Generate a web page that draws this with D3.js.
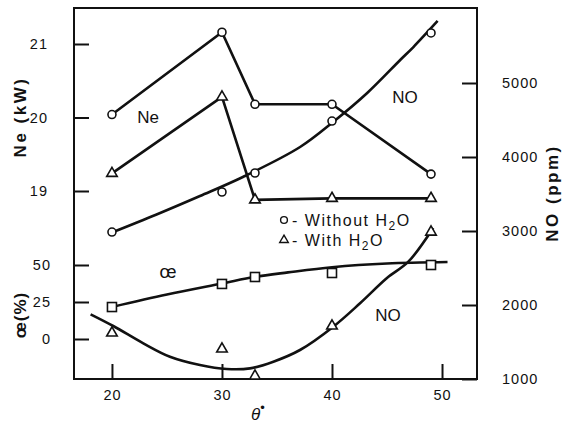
<!DOCTYPE html>
<html><head><meta charset="utf-8">
<script src="https://cdn.jsdelivr.net/npm/d3@7"></script>
<style>
html,body{margin:0;padding:0;background:#fff;}
svg{display:block;}
text{font-family:"Liberation Sans",Arial,sans-serif;fill:#111;}
</style></head>
<body>
<svg id="chart" width="563" height="429"></svg>
<script>
// ---- data ----
const theta = [20, 30, 33, 40, 49];
const neWithout = [20.04, 21.16, 20.18, 20.18, 19.23];
const neWith = [19.24, 20.28, 18.88, 18.9, 18.9];
const noWithout = [2986, 3527, 3784, 4486, 5676];
const noWith = [1622, 1405, 1040, 1716, 2986];
const aeVals = [21.6, 37.2, 41.9, 44.6, 50];
// fitted curves
const noDryFitTheta = [20.1, 24, 28, 31.9, 37.1, 40.1, 43.2, 46.2, 47.4, 49.6];
const noDryFit = [2986, 3220, 3473, 3730, 4135, 4473, 4865, 5311, 5486, 5838];
const noWetFitTheta = [18.06, 20.12, 22.85, 25.27, 28, 30.43, 32.55, 34.67, 37.09, 40.12, 42.55, 44.97, 46.94, 49.2];
const noWetFit = [1874, 1716, 1482, 1301, 1189, 1135, 1144, 1234, 1392, 1707, 2023, 2361, 2585, 3040];
const aeFitTheta = [20, 25, 30, 33, 36, 40, 45, 50.5];
const aeFit = [21.6, 30, 37.5, 42, 45, 48.5, 51, 52];
const xTicks = [20, 30, 40, 50];
const neTicks = [19, 20, 21];
const aeTicks = [0, 25, 50];
const noTicks = [1000, 2000, 3000, 4000, 5000];

const svg = d3.select("#chart");
const L = 74, R = 477, T = 8, B = 379;
const x = d3.scaleLinear().domain([16.55, 53.18]).range([L, R]);
const yNe = d3.scaleLinear().domain([19, 21]).range([191, 44]);
const yAe = d3.scaleLinear().domain([0, 50]).range([339, 265]);
const yNo = d3.scaleLinear().domain([1000, 5000]).range([B, 83]);

// frame
svg.append("rect").attr("x", L).attr("y", T).attr("width", R - L).attr("height", B - T)
  .attr("fill", "none").attr("stroke", "#111").attr("stroke-width", 2);

// axes
const fs = "14.5px";
const bottom = svg.append("g").attr("transform", `translate(0,${B})`)
  .call(d3.axisBottom(x).tickValues(xTicks).tickSize(-15).tickPadding(11).tickFormat(d3.format("d")));
const leftNe = svg.append("g").attr("transform", `translate(${L},0)`)
  .call(d3.axisLeft(yNe).tickValues(neTicks).tickSize(-15).tickPadding(26).tickFormat(d3.format("d")));
const leftAe = svg.append("g").attr("transform", `translate(${L},0)`)
  .call(d3.axisLeft(yAe).tickValues(aeTicks).tickSize(-15).tickPadding(23).tickFormat(d3.format("d")));
const rightNo = svg.append("g").attr("transform", `translate(${R},0)`)
  .call(d3.axisRight(yNo).tickValues(noTicks).tickSize(-15).tickPadding(25).tickFormat(d3.format("d")));
[bottom, leftNe, leftAe, rightNo].forEach(g => {
  g.select(".domain").remove();
  g.selectAll(".tick line").attr("stroke", "#111").attr("stroke-width", 2);
  g.selectAll(".tick text").attr("fill", "#111").style("font-size", fs)
    .style("font-family", '"Liberation Sans",Arial,sans-serif').style("letter-spacing", "1px");
});

// axis titles
svg.append("text").attr("transform", "translate(26,117) rotate(-90)").attr("text-anchor", "middle")
  .style("font-size", "17px").style("font-weight", "bold").style("letter-spacing", "2.5px").text("Ne (kW)");
svg.append("text").attr("transform", "translate(26,315) rotate(-90)").attr("text-anchor", "middle")
  .style("font-size", "17px").style("font-weight", "bold").style("letter-spacing", "1px").text("œ(%)");
svg.append("text").attr("transform", "translate(558,193) rotate(-90)").attr("text-anchor", "middle")
  .style("font-size", "17px").style("font-weight", "bold").style("letter-spacing", "2.5px").text("NO (ppm)");
const xt = svg.append("text").attr("x", 258).attr("y", 420).attr("text-anchor", "middle")
  .style("font-size", "17px").style("font-style", "italic");
xt.append("tspan").text("θ");
xt.append("tspan").attr("dy", -8).style("font-size", "13px").style("font-style", "normal").text("•");

// lines
const lw = 2.6;
const straight = (ys, yScale) => d3.line().x((d, i) => x(theta[i])).y(d => yScale(d))(ys);
const smooth = (ts, vs, yScale) => d3.line().curve(d3.curveCatmullRom.alpha(0.5))
  .x((d, i) => x(ts[i])).y(d => yScale(d))(vs);

svg.append("path").attr("d", straight(neWithout, yNe)).attr("fill", "none").attr("stroke", "#111").attr("stroke-width", lw);
svg.append("path").attr("d", straight(neWith, yNe)).attr("fill", "none").attr("stroke", "#111").attr("stroke-width", lw);
svg.append("path").attr("d", smooth(noDryFitTheta, noDryFit, yNo)).attr("fill", "none").attr("stroke", "#111").attr("stroke-width", lw);
svg.append("path").attr("d", smooth(noWetFitTheta, noWetFit, yNo)).attr("fill", "none").attr("stroke", "#111").attr("stroke-width", lw);
svg.append("path").attr("d", smooth(aeFitTheta, aeFit, yAe)).attr("fill", "none").attr("stroke", "#111").attr("stroke-width", lw);

// markers
function circles(vals, yScale) {
  svg.append("g").selectAll("circle").data(vals).join("circle")
    .attr("cx", (d, i) => x(theta[i])).attr("cy", d => yScale(d)).attr("r", 4)
    .attr("fill", "#fff").attr("stroke", "#111").attr("stroke-width", 1.6);
}
function triangles(vals, yScale) {
  const sym = d3.symbol().type(d3.symbolTriangle).size(48);
  svg.append("g").selectAll("path").data(vals).join("path")
    .attr("transform", (d, i) => `translate(${x(theta[i])},${yScale(d)})`).attr("d", sym)
    .attr("fill", "#fff").attr("stroke", "#111").attr("stroke-width", 1.6);
}
function squares(vals, yScale) {
  svg.append("g").selectAll("rect").data(vals).join("rect")
    .attr("x", (d, i) => x(theta[i]) - 4.5).attr("y", d => yScale(d) - 4.5)
    .attr("width", 9).attr("height", 9)
    .attr("fill", "#fff").attr("stroke", "#111").attr("stroke-width", 1.6);
}
circles(neWithout, yNe);
triangles(neWith, yNe);
circles(noWithout, yNo);
triangles(noWith, yNo);
squares(aeVals, yAe);

// labels
const lab = (tx, ty, t, size) => svg.append("text").attr("x", tx).attr("y", ty).attr("text-anchor", "middle")
  .style("font-size", size || "17px").text(t);
lab(148, 123, "Ne");
lab(405, 103, "NO");
lab(168, 278, "œ", "18px");
lab(388, 321, "NO");

// legend
const lg = svg.append("g").style("font-size", "16px").style("letter-spacing", "1.5px");
lg.append("circle").attr("cx", 284).attr("cy", 220).attr("r", 3.4).attr("fill", "#fff").attr("stroke", "#111").attr("stroke-width", 1.4);
const t1 = lg.append("text").attr("x", 292).attr("y", 226);
t1.append("tspan").text("- Without H");
t1.append("tspan").attr("dy", 4).style("font-size", "12px").text("2");
t1.append("tspan").attr("dy", -4).text("O");
lg.append("path").attr("d", d3.symbol().type(d3.symbolTriangle).size(32)()).attr("transform", "translate(284,240)")
  .attr("fill", "#fff").attr("stroke", "#111").attr("stroke-width", 1.4);
const t2 = lg.append("text").attr("x", 292).attr("y", 246);
t2.append("tspan").text("- With H");
t2.append("tspan").attr("dy", 4).style("font-size", "12px").text("2");
t2.append("tspan").attr("dy", -4).text("O");
</script>
</body></html>
